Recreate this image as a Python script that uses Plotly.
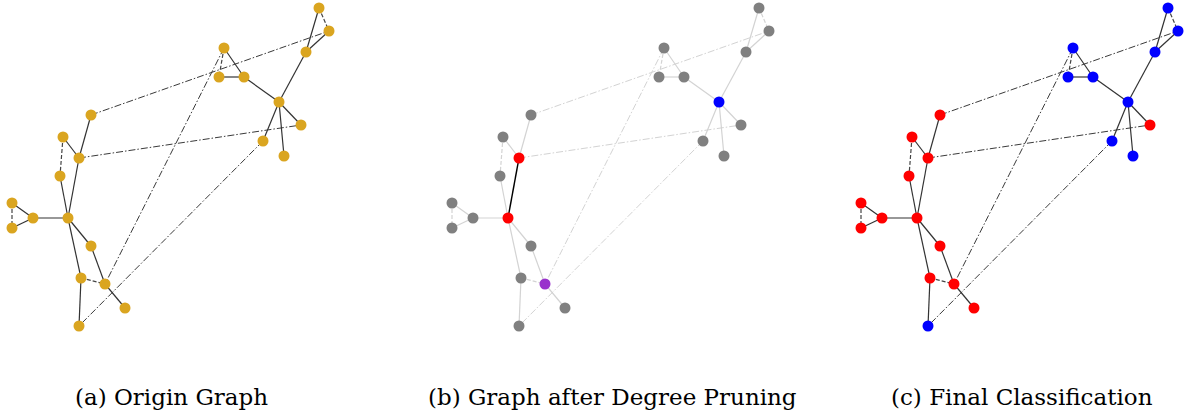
import plotly.graph_objects as go

# Node layout (shared by the three panels)
node_x = [319, 329, 306, 224, 219, 244, 279, 301, 263, 284, 91, 63, 79, 60, 12, 12, 33, 68, 91, 81, 105, 125, 79]
node_y = [8, 31, 52, 48, 77, 77, 102, 125, 141, 156, 115, 137, 158, 176, 203, 228, 218, 218, 246, 278, 284, 308, 326]

solid_edges = [(0, 2), (1, 2), (2, 6), (3, 5), (4, 5), (5, 6), (6, 7), (6, 8), (6, 9),
               (10, 12), (11, 12), (12, 17), (13, 17), (14, 16), (15, 16), (16, 17),
               (17, 18), (17, 19), (18, 20), (20, 21), (19, 22)]
dashed_edges = [(0, 1), (3, 4), (11, 13), (14, 15), (19, 20)]
dashdot_edges = [(10, 1), (12, 7), (3, 20), (8, 22)]

# Panel (b): degree pruning result
pruned_colors = ["gray"] * 23
pruned_colors[12] = "red"
pruned_colors[17] = "red"
pruned_colors[6] = "blue"
pruned_colors[20] = "purple"
kept_edges = [(12, 17)]

# Panel (c): final classification
final_labels = ["B", "B", "B", "B", "B", "B", "B", "R", "B", "B", "R", "R", "R", "R", "R", "R", "R", "R", "R", "R", "R", "R", "B"]

captions = ["(a) Origin Graph", "(b) Graph after Degree Pruning", "(c) Final Classification"]

W, H = 1185, 417
panel_left = [0, 440, 849]
panel_w = 335

color_map = {"gray": "#808080", "red": "#ff0000", "blue": "#0000ff", "purple": "#9932cc"}
label_map = {"R": "#ff0000", "B": "#0000ff"}

fig = go.Figure()


def seg(edges):
    xs, ys = [], []
    for a, b in edges:
        xs += [node_x[a], node_x[b], None]
        ys += [node_y[a], node_y[b], None]
    return xs, ys


def add_edges(k, edges, color, dash, width=1.2):
    xs, ys = seg(edges)
    sfx = "" if k == 0 else str(k + 1)
    fig.add_trace(go.Scatter(x=xs, y=ys, mode="lines", xaxis="x" + sfx, yaxis="y" + sfx,
                             line=dict(color=color, width=width, dash=dash),
                             hoverinfo="skip", showlegend=False))


def add_nodes(k, colors):
    sfx = "" if k == 0 else str(k + 1)
    fig.add_trace(go.Scatter(x=node_x, y=node_y, mode="markers", xaxis="x" + sfx, yaxis="y" + sfx,
                             marker=dict(size=11, color=colors, line=dict(width=0)),
                             showlegend=False))


DASH = "4px,2px"
DASHDOT = "7px,2px,1.5px,2px"

# Panel a
add_edges(0, solid_edges, "#333333", "solid")
add_edges(0, dashed_edges, "#444444", DASH)
add_edges(0, dashdot_edges, "#3a3a3a", DASHDOT, 1.0)
add_nodes(0, ["#daa520"] * 23)

# Panel b
light_solid = [e for e in solid_edges if e not in kept_edges]
add_edges(1, light_solid, "#d3d3d3", "solid")
add_edges(1, dashed_edges, "#d3d3d3", DASH)
add_edges(1, dashdot_edges, "#d3d3d3", DASHDOT, 1.0)
add_edges(1, kept_edges, "#000000", "solid", 1.4)
add_nodes(1, [color_map[c] for c in pruned_colors])

# Panel c
add_edges(2, solid_edges, "#333333", "solid")
add_edges(2, dashed_edges, "#444444", DASH)
add_edges(2, dashdot_edges, "#3a3a3a", DASHDOT, 1.0)
add_nodes(2, [label_map[c] for c in final_labels])

layout = dict(width=W, height=H, margin=dict(l=0, r=0, t=0, b=0),
              plot_bgcolor="white", paper_bgcolor="white")
for k in range(3):
    sfx = "" if k == 0 else str(k + 1)
    layout["xaxis" + sfx] = dict(domain=[panel_left[k] / W, (panel_left[k] + panel_w) / W],
                                 range=[0, panel_w], visible=False, fixedrange=True,
                                 anchor="y" + sfx)
    layout["yaxis" + sfx] = dict(domain=[0, 1], range=[H, 0], visible=False, fixedrange=True,
                                 anchor="x" + sfx)
fig.update_layout(**layout)

cap_x = [171, 612, 1022]
for k in range(3):
    fig.add_annotation(x=cap_x[k] / W, y=1 - 397 / H, xref="paper", yref="paper",
                       text=captions[k], showarrow=False, xanchor="center", yanchor="middle",
                       font=dict(family="DejaVu Serif", size=23, color="black"))

fig.write_html("out.html", config={"displayModeBar": False},
               post_script="document.body.style.margin='0';document.body.style.overflow='hidden';")
